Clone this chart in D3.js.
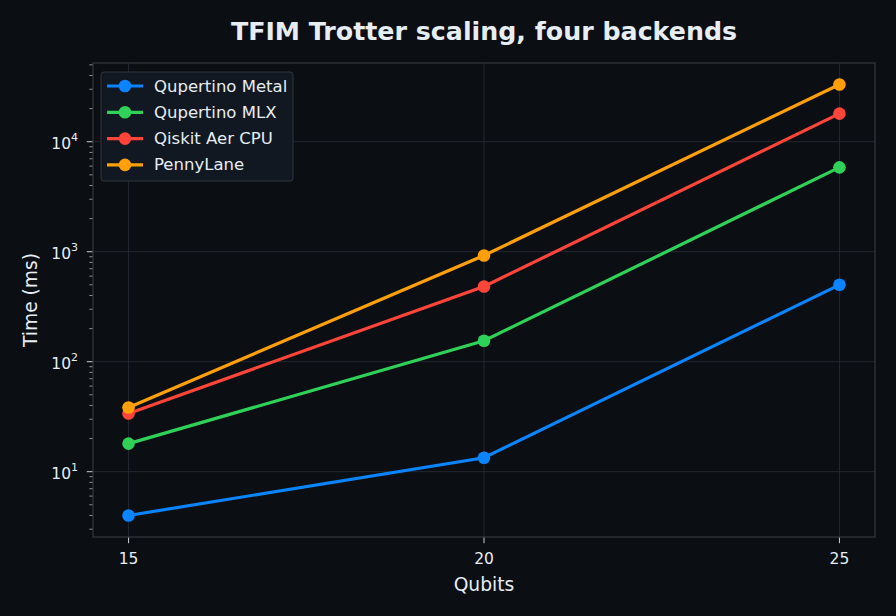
<!DOCTYPE html>
<html>
<head>
<meta charset="utf-8">
<script src="https://cdn.jsdelivr.net/npm/d3@7"></script>
<style>
  html, body { margin: 0; padding: 0; background: #0b0e13; }
  text { font-family: "DejaVu Sans", sans-serif; }
</style>
</head>
<body>
<div id="chart"></div>
<script>
const qubits = [15, 20, 25];
const seriesNames = ["Qupertino Metal", "Qupertino MLX", "Qiskit Aer CPU", "PennyLane"];
const metalMs = [4.0, 13.4, 500];
const mlxMs = [18, 155, 5850];
const qiskitMs = [33.8, 483, 18000];
const pennylaneMs = [38.3, 925, 33100];
const colors = ["#0a84ff", "#30d158", "#ff453a", "#ff9f0a"];
const yTicks = [10, 100, 1000, 10000];

const series = [metalMs, mlxMs, qiskitMs, pennylaneMs].map((vals, i) => ({
  name: seriesNames[i],
  color: colors[i],
  points: vals.map((v, j) => ({ q: qubits[j], t: v })),
}));

const W = 896, H = 616;
const margin = { top: 63, right: 21, bottom: 79, left: 93 };
const width = W - margin.left - margin.right;
const height = H - margin.top - margin.bottom;

const svg = d3.select("#chart").append("svg")
  .attr("width", W).attr("height", H)
  .style("background", "#0b0e13");

const g = svg.append("g").attr("transform", `translate(${margin.left},${margin.top})`);

const x = d3.scaleLinear().domain([14.5, 25.5]).range([0, width]);
const allVals = [].concat(metalMs, mlxMs, qiskitMs, pennylaneMs);
const lmin = Math.log10(d3.min(allVals)), lmax = Math.log10(d3.max(allVals));
const pad = (lmax - lmin) * 0.05;
const y = d3.scaleLog().domain([10 ** (lmin - pad), 10 ** (lmax + pad)]).range([height, 0]);

// grid
g.append("g").selectAll("line").data(qubits).enter().append("line")
  .attr("x1", d => x(d)).attr("x2", d => x(d))
  .attr("y1", 0).attr("y2", height)
  .attr("stroke", "#222831").attr("stroke-width", 1);
g.append("g").selectAll("line").data(yTicks).enter().append("line")
  .attr("x1", 0).attr("x2", width)
  .attr("y1", d => y(d)).attr("y2", d => y(d))
  .attr("stroke", "#222831").attr("stroke-width", 1);

// minor ticks on y
const minor = [];
for (let e = 0; e <= 4; e++) for (let m = 2; m <= 9; m++) {
  const v = m * 10 ** e;
  if (v >= y.domain()[0] && v <= y.domain()[1]) minor.push(v);
}
g.append("g").selectAll("line").data(minor).enter().append("line")
  .attr("x1", -3.6).attr("x2", 0)
  .attr("y1", d => y(d)).attr("y2", d => y(d))
  .attr("stroke", "#c9d1d9").attr("stroke-width", 0.7);

// major y ticks + labels
const yt = g.append("g").selectAll("g").data(yTicks).enter().append("g")
  .attr("transform", d => `translate(0,${y(d)})`);
yt.append("line").attr("x1", -6.2).attr("x2", 0).attr("stroke", "#c9d1d9").attr("stroke-width", 1);
const ytx = yt.append("text").attr("x", -15).attr("y", 7).attr("text-anchor", "end")
  .attr("fill", "#e6edf3").style("font-size", "15.5px");
ytx.append("tspan").text("10");
ytx.append("tspan").attr("dy", -8).style("font-size", "11px").text(d => Math.round(Math.log10(d)));

// x ticks
const xt = g.append("g").selectAll("g").data(qubits).enter().append("g")
  .attr("transform", d => `translate(${x(d)},${height})`);
xt.append("line").attr("y1", 0).attr("y2", 6.2).attr("stroke", "#c9d1d9").attr("stroke-width", 1);
xt.append("text").attr("y", 27).attr("text-anchor", "middle")
  .attr("fill", "#e6edf3").style("font-size", "15.5px").text(d => d);

// frame
g.append("rect").attr("width", width).attr("height", height)
  .attr("fill", "none").attr("stroke", "#30363d").attr("stroke-width", 1.3);

// lines
const line = d3.line().x(d => x(d.q)).y(d => y(d.t));
series.forEach(s => {
  g.append("path").datum(s.points)
    .attr("fill", "none").attr("stroke", s.color).attr("stroke-width", 3.2)
    .attr("d", line);
  g.selectAll(null).data(s.points).enter().append("circle")
    .attr("cx", d => x(d.q)).attr("cy", d => y(d.t)).attr("r", 6.3)
    .attr("fill", s.color);
});

// titles
svg.append("text").attr("x", margin.left + width / 2).attr("y", 40)
  .attr("text-anchor", "middle").attr("fill", "#e6edf3")
  .style("font-size", "25.3px").style("font-weight", "bold")
  .text("TFIM Trotter scaling, four backends");
svg.append("text").attr("x", margin.left + width / 2).attr("y", 591)
  .attr("text-anchor", "middle").attr("fill", "#e6edf3")
  .style("font-size", "18.7px").text("Qubits");
svg.append("text").attr("transform", `translate(37,${margin.top + height / 2}) rotate(-90)`)
  .attr("text-anchor", "middle").attr("fill", "#e6edf3")
  .style("font-size", "18.7px").text("Time (ms)");

// legend
const legend = g.append("g").attr("transform", "translate(8,9)");
legend.append("rect").attr("width", 192).attr("height", 109).attr("rx", 3)
  .attr("fill", "#121821").attr("stroke", "#30363d").attr("stroke-width", 1);
series.forEach((s, i) => {
  const ly = 14 + i * 26.3;
  legend.append("line").attr("x1", 6).attr("x2", 42).attr("y1", ly).attr("y2", ly)
    .attr("stroke", s.color).attr("stroke-width", 3.2);
  legend.append("circle").attr("cx", 24).attr("cy", ly).attr("r", 6.3).attr("fill", s.color);
  legend.append("text").attr("x", 53).attr("y", ly + 5.5)
    .attr("fill", "#e6edf3").style("font-size", "16.5px").text(s.name);
});
</script>
</body>
</html>
